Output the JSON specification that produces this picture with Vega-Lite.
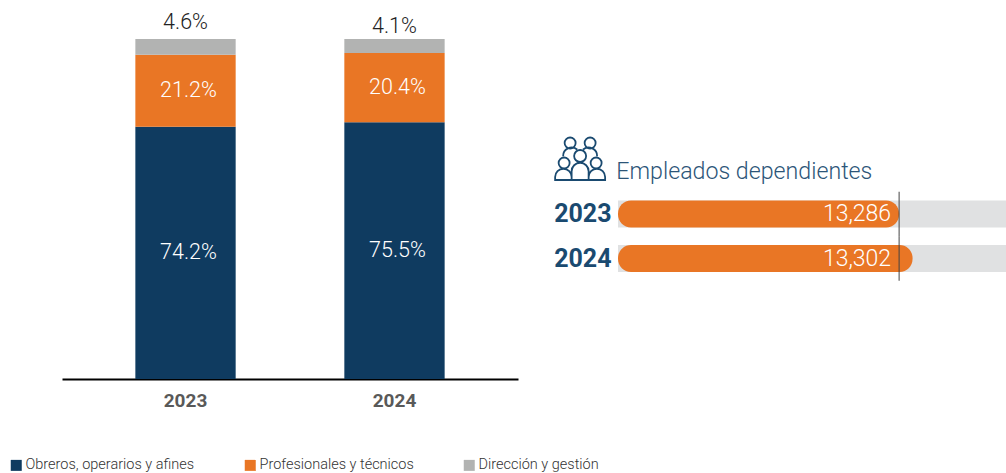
{
"$schema":"https://vega.github.io/schema/vega-lite/v6.json",
"padding":{"left":9,"top":12,"right":0,"bottom":0},
"background":"white",
"spacing":33,
"config":{"view":{"stroke":null},"font":"Roboto"},
"datasets":{
"comp":[
{"year":"2023","category":"Obreros, operarios y afines","pct":74.2,"ord":1},
{"year":"2023","category":"Profesionales y técnicos","pct":21.2,"ord":2},
{"year":"2023","category":"Dirección y gestión","pct":4.6,"ord":3},
{"year":"2024","category":"Obreros, operarios y afines","pct":75.5,"ord":1},
{"year":"2024","category":"Profesionales y técnicos","pct":20.4,"ord":2},
{"year":"2024","category":"Dirección y gestión","pct":4.1,"ord":3}
],
"emp":[
{"year":"2023","employees":13286,"low":12952,"high":13413,"ref":13286},
{"year":"2024","employees":13302,"low":12952,"high":13413,"ref":13286}
]
},
"hconcat":[
{
"width":456,"height":340,
"data":{"name":"comp"},
"transform":[{"stack":"pct","groupby":["year"],"sort":[{"field":"ord","order":"ascending"}],"as":["y0","y1"]},
{"calculate":"format(datum.pct,'.1f')+'%'","as":"label"}],
"encoding":{
"x":{"field":"year","type":"nominal","scale":{"paddingInner":0.52,"paddingOuter":0.351},
"axis":{"title":null,"labelAngle":0,"ticks":false,"domainColor":"#000000","domainWidth":2,"labelFont":"Roboto","labelFontWeight":"bold","labelFontSize":19,"labelColor":"#595959","labelPadding":12,"grid":false}}
},
"layer":[
{"mark":{"type":"bar"},
"encoding":{
"y":{"field":"y0","type":"quantitative","scale":{"domain":[0,100],"nice":false},"axis":null},
"y2":{"field":"y1"},
"color":{"field":"category","type":"nominal",
"scale":{"domain":["Obreros, operarios y afines","Profesionales y técnicos","Dirección y gestión"],"range":["#0f3b60","#e97625","#b2b3b2"]},
"legend":{"title":null,"orient":"none","legendX":-53,"legendY":419,"direction":"horizontal","columns":3,"columnPadding":48,"symbolType":"square","symbolSize":121,"symbolStrokeWidth":0,"symbolOpacity":1,"labelFont":"Roboto","labelFontWeight":300,"labelFontSize":14.5,"labelColor":"#333333","labelOffset":2,"labelLimit":300,"padding":0}}
}},
{"mark":{"type":"text","font":"Roboto","fontWeight":300,"fontSize":21.5,"color":"#ffffff","baseline":"middle","dx":3},
"transform":[{"filter":"datum.ord<3"},{"calculate":"(datum.y0+datum.y1)/2","as":"mid"}],
"encoding":{"y":{"field":"mid","type":"quantitative"},"text":{"field":"label"}}},
{"mark":{"type":"text","font":"Roboto","fontWeight":300,"fontSize":21.5,"color":"#222222","baseline":"middle","dy":-16},
"transform":[{"filter":"datum.ord==3 && datum.year=='2023'"}],
"encoding":{"y":{"field":"y1","type":"quantitative"},"text":{"field":"label"}}},
{"mark":{"type":"text","font":"Roboto","fontWeight":300,"fontSize":21.5,"color":"#222222","baseline":"middle","dy":-12},
"transform":[{"filter":"datum.ord==3 && datum.year=='2024'"}],
"encoding":{"y":{"field":"y1","type":"quantitative"},"text":{"field":"label"}}}
]
},
{
"width":388,"height":340,
"data":{"name":"emp"},
"encoding":{
"y":{"field":"year","type":"nominal","scale":{"domain":["Empleados dependientes","2023","2024"],"range":[108.25,241.75],"paddingInner":0,"paddingOuter":0},
"axis":{"title":null,"values":["2023","2024"],"ticks":false,"domain":false,"grid":false,"labelFont":"Roboto","labelFontWeight":"bold","labelFontSize":25,"labelColor":"#1a4a70","labelPadding":7}}
},
"layer":[
{"mark":{"type":"bar","color":"#e0e1e2","height":27},
"encoding":{"x":{"field":"low","type":"quantitative","scale":{"domain":[12952,13413],"nice":false,"zero":false},"axis":null},"x2":{"field":"high"}}},
{"mark":{"type":"bar","color":"#e97625","height":27,"cornerRadius":13},
"encoding":{"x":{"field":"low","type":"quantitative"},"x2":{"field":"employees"}}},
{"mark":{"type":"tick","color":"#444444","thickness":1,"size":44.5,"orient":"vertical","opacity":1},
"encoding":{"x":{"field":"ref","type":"quantitative"}}},
{"mark":{"type":"text","font":"Roboto","fontWeight":300,"fontSize":23,"color":"#ffffff","align":"right","baseline":"middle","dx":-8},
"encoding":{"x":{"field":"ref","type":"quantitative"},"text":{"field":"employees","type":"quantitative","format":","}}},
{"data":{"values":[{"year":"Empleados dependientes","anchor":12950,"icon":12907}]},
"mark":{"type":"text","font":"Roboto","fontWeight":300,"fontSize":23.2,"color":"#2c5578","align":"left","baseline":"middle","dy":2},
"encoding":{"x":{"field":"anchor","type":"quantitative"},"text":{"field":"year"}}},
{"data":{"values":[{"year":"Empleados dependientes","anchor":12950,"icon":12907}]},
"mark":{"type":"point","filled":false,"color":"#1a4a70","strokeWidth":1.8,"opacity":1,"size":2500,"yOffset":-9.5,
"shape":"M-.34 .8 L-.34 .45 A.34 .34 0 0 1 .34 .45 L.34 .8 Z M-1 .8 L-1 .68 A.33 .33 0 0 1 -.34 .68 L-.34 .8 Z M.34 .8 L.34 .68 A.33 .33 0 0 1 1 .68 L1 .8 Z M-.62 -.68 A.22 .22 0 1 1 -.18 -.68 A.22 .22 0 1 1 -.62 -.68 Z M.18 -.68 A.22 .22 0 1 1 .62 -.68 A.22 .22 0 1 1 .18 -.68 Z M-.24 -.16 A.24 .24 0 1 1 .24 -.16 A.24 .24 0 1 1 -.24 -.16 Z M-.86 .12 A.22 .22 0 1 1 -.42 .12 A.22 .22 0 1 1 -.86 .12 Z M.42 .12 A.22 .22 0 1 1 .86 .12 A.22 .22 0 1 1 .42 .12 Z M-.68 -.15 A.34 .34 0 0 1 -.12 -.42 M.12 -.42 A.34 .34 0 0 1 .68 -.15"},
"encoding":{"x":{"field":"icon","type":"quantitative"}}}
]
}
]
}
